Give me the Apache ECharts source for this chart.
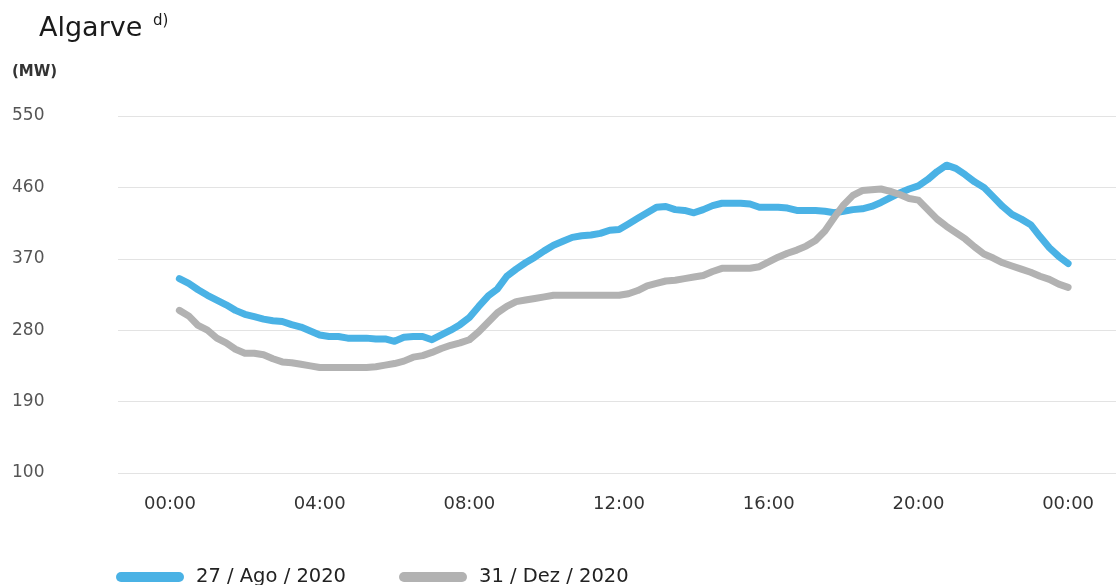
<!DOCTYPE html>
<html>
<head>
<meta charset="utf-8">
<script src="https://cdn.jsdelivr.net/npm/echarts@6/dist/echarts.min.js"></script>
<style>
html,body{margin:0;padding:0;background:#fff;}
#chart{width:1116px;height:585px;}
</style>
</head>
<body>
<div id="chart"></div>
<script>
// Time of day in hours (15-minute readings)
const hours = [0.25,0.5,0.75,1,1.25,1.5,1.75,2,2.25,2.5,2.75,3,3.25,3.5,3.75,4,
4.25,4.5,4.75,5,5.25,5.5,5.75,6,6.25,6.5,6.75,7,7.25,7.5,7.75,8,
8.25,8.5,8.75,9,9.25,9.5,9.75,10,10.25,10.5,10.75,11,11.25,11.5,11.75,12,
12.25,12.5,12.75,13,13.25,13.5,13.75,14,14.25,14.5,14.75,15,15.25,15.5,15.75,16,
16.25,16.5,16.75,17,17.25,17.5,17.75,18,18.25,18.5,18.75,19,19.25,19.5,19.75,20,
20.25,20.5,20.75,21,21.25,21.5,21.75,22,22.25,22.5,22.75,23,23.25,23.5,23.75,24];

// 27 / Ago / 2020 (MW)
const ago2020 = [345,339,331,324,318,312,305,300,297,294,292,291,287,284,279,274,
272,272,270,270,270,269,269,266,271,272,272,268,274,280,287,296,
310,323,332,348,357,365,372,380,387,392,397,399,400,402,406,407,
414,421,428,435,436,432,431,428,432,437,440,440,440,439,435,435,
435,434,431,431,431,430,428,430,432,433,436,441,447,453,458,462,
470,480,488,484,476,467,460,448,436,426,420,413,398,384,373,364];

// 31 / Dez / 2020 (MW)
const dez2020 = [305,298,286,280,270,264,256,251,251,249,244,240,239,237,235,233,
233,233,233,233,233,234,236,238,241,246,248,252,257,261,264,268,
278,290,302,310,316,318,320,322,324,324,324,324,324,324,324,324,
326,330,336,339,342,343,345,347,349,354,358,358,358,358,360,366,
372,377,381,386,393,405,422,438,450,456,457,458,455,451,446,444,
432,420,411,403,395,385,376,371,365,361,357,353,348,344,338,334];

const seriesNames = ['27 / Ago / 2020', '31 / Dez / 2020'];
const xTicks = [0,4,8,12,16,20,24];
const yTicks = [100,190,280,370,460,550];

const blue = '#4AB2E5';
const grey = '#B2B2B2';

const chart = echarts.init(document.getElementById('chart'), null, {renderer:'canvas'});

function pairs(vals){ return hours.map((h,i)=>[h, vals[i]]); }
function hh(v){ const h = Math.round(v) % 24; return (h<10?'0':'') + h + ':00'; }

chart.setOption({
  animation:false,
  backgroundColor:'#ffffff',
  title:{
    text:'Algarve {sup|d)}',
    left:34, top:9,
    textStyle:{
      fontFamily:'DejaVu Sans', fontSize:27, fontWeight:'normal', color:'#1a1a1a',
      rich:{ sup:{ fontFamily:'DejaVu Sans', fontSize:15, color:'#1a1a1a', verticalAlign:'top', padding:[0,0,14,2] } }
    }
  },
  graphic:[{
    type:'text', left:12, top:65,
    style:{ text:'(MW)', fontFamily:'DejaVu Sans', fontWeight:'bold', fontSize:15, fill:'#333' }
  }],
  legend:{
    left:111, top:562,
    itemWidth:68, itemHeight:10, itemGap:53,
    icon:'path://M5,0 H63 A5,5 0 0 1 63,10 H5 A5,5 0 0 1 5,0 Z',
    textStyle:{ fontFamily:'DejaVu Sans', fontSize:19.5, color:'#222', padding:[0,0,0,7] },
    data:seriesNames
  },
  grid:{ left:118, right:0, top:116, bottom:112, containLabel:false },
  xAxis:{
    type:'value', min:-1.39, max:25.28,
    axisLine:{show:false}, axisTick:{show:false}, splitLine:{show:false},
    axisLabel:{
      customValues:xTicks, formatter:hh, margin:22,
      fontFamily:'DejaVu Sans', fontSize:18, color:'#333'
    }
  },
  yAxis:{
    type:'value', min:100, max:550, interval:90,
    axisLine:{show:false}, axisTick:{show:false},
    splitLine:{ lineStyle:{ color:'#e3e3e3', width:1 } },
    axisLabel:{
      align:'left', margin:106,
      fontFamily:'DejaVu Sans', fontSize:17, color:'#555'
    }
  },
  series:[
    { name:seriesNames[0], type:'line', data:pairs(ago2020), showSymbol:false, smooth:false,
      lineStyle:{ color:blue, width:7, cap:'round', join:'round' }, itemStyle:{color:blue} },
    { name:seriesNames[1], type:'line', data:pairs(dez2020), showSymbol:false, smooth:false,
      lineStyle:{ color:grey, width:7, cap:'round', join:'round' }, itemStyle:{color:grey} }
  ]
});
</script>
</body>
</html>
